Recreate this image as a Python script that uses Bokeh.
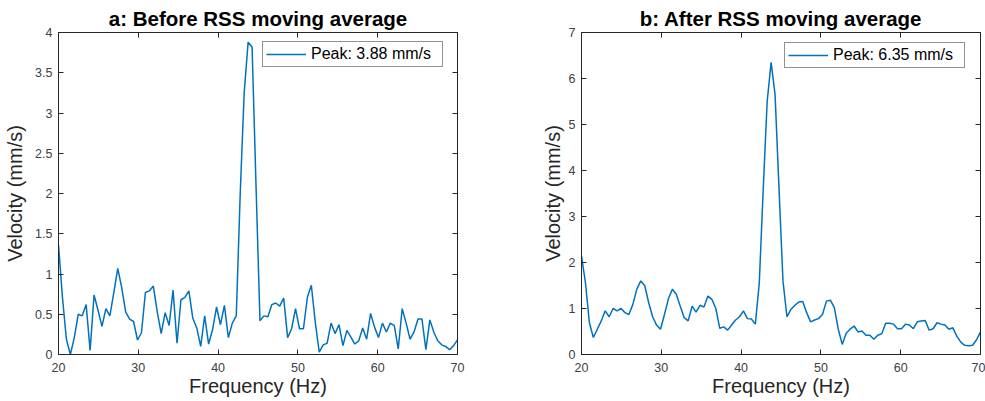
import numpy as np
from bokeh.plotting import figure
from bokeh.models import Range1d, LinearAxis, FixedTicker, Legend, LegendItem
from bokeh.layouts import row
from bokeh.embed import file_html
from bokeh.resources import INLINE

# ---------------- data ----------------
freq = np.linspace(20, 70, 102)   # frequency bins (Hz)

before_rss = [
    1.36, 0.71, 0.19, 0.00, 0.21, 0.50, 0.48, 0.62, 0.05, 0.74,
    0.55, 0.35, 0.57, 0.48, 0.77, 1.07, 0.83, 0.53, 0.44, 0.41,
    0.18, 0.27, 0.77, 0.79, 0.85, 0.53, 0.26, 0.52, 0.36, 0.80,
    0.14, 0.68, 0.71, 0.79, 0.45, 0.33, 0.10, 0.48, 0.13, 0.31,
    0.59, 0.37, 0.61, 0.21, 0.39, 0.48, 2.00, 3.25, 3.88, 3.82,
    2.10, 0.42, 0.48, 0.47, 0.62, 0.64, 0.60, 0.70, 0.21, 0.32,
    0.57, 0.32, 0.32, 0.71, 0.86, 0.40, 0.03, 0.12, 0.14, 0.39,
    0.26, 0.37, 0.11, 0.30, 0.22, 0.13, 0.17, 0.33, 0.19, 0.51,
    0.34, 0.21, 0.39, 0.28, 0.39, 0.36, 0.07, 0.57, 0.39, 0.19,
    0.28, 0.44, 0.44, 0.06, 0.43, 0.28, 0.17, 0.12, 0.10, 0.06,
    0.11, 0.18,
]

after_rss = [
    2.14, 1.56, 0.69, 0.37, 0.55, 0.73, 0.95, 0.82, 1.00, 0.95,
    1.00, 0.91, 0.87, 1.09, 1.42, 1.60, 1.50, 1.13, 0.82, 0.64,
    0.55, 0.87, 1.21, 1.42, 1.31, 1.05, 0.80, 0.73, 1.05, 0.92,
    1.07, 1.03, 1.27, 1.20, 1.00, 0.57, 0.60, 0.53, 0.64, 0.75,
    0.82, 0.95, 0.78, 0.77, 0.66, 1.55, 3.60, 5.50, 6.35, 5.65,
    3.60, 1.60, 0.82, 0.98, 1.07, 1.14, 1.15, 0.91, 0.71, 0.75,
    0.78, 0.87, 1.16, 1.18, 1.02, 0.55, 0.22, 0.46, 0.55, 0.62,
    0.49, 0.51, 0.42, 0.42, 0.33, 0.42, 0.45, 0.68, 0.68, 0.66,
    0.56, 0.56, 0.66, 0.64, 0.56, 0.71, 0.73, 0.74, 0.53, 0.56,
    0.69, 0.66, 0.64, 0.55, 0.58, 0.40, 0.27, 0.20, 0.19, 0.20,
    0.32, 0.49,
]

x_ticks = [20, 30, 40, 50, 60, 70]
y_ticks_a = [0, 0.5, 1, 1.5, 2, 2.5, 3, 3.5, 4]
y_ticks_b = [0, 1, 2, 3, 4, 5, 6, 7]

titles = ["a: Before RSS moving average", "b: After RSS moving average"]
legend_labels = ["Peak: 3.88 mm/s", "Peak: 6.35 mm/s"]
x_label = "Frequency (Hz)"
y_label = "Velocity (mm/s)"

FONT = "Liberation Sans"
AX = "#262626"
LINE = "#0072BD"


def style_axis(ax, ticks, show_labels):
    ax.ticker = FixedTicker(ticks=ticks)
    ax.axis_line_color = AX
    ax.axis_line_width = 1
    ax.major_tick_line_color = AX
    ax.major_tick_in = 5
    ax.major_tick_out = 0
    ax.minor_tick_line_color = None
    ax.major_label_text_font = FONT
    ax.major_label_text_line_height = 1.0
    ax.axis_label_text_line_height = 1.0
    if show_labels:
        ax.major_label_text_color = "#404040"
        ax.major_label_text_font_size = "12.5px"
        ax.major_label_overrides = {t: f"{t:g}" for t in ticks}
    else:
        ax.major_label_text_color = None
        ax.major_label_text_font_size = "0px"
        ax.major_label_standoff = 0


def make(title, yv, ymax, yticks, leg_label, min_left, min_right, leg_loc, ylab_standoff):
    p = figure(frame_width=399, frame_height=322,
               x_range=Range1d(20, 70), y_range=Range1d(0, ymax),
               output_backend="svg", toolbar_location=None,
               min_border_left=min_left, min_border_right=min_right,
               min_border_top=32, min_border_bottom=47)
    p.outline_line_color = None
    p.xgrid.visible = False
    p.ygrid.visible = False
    p.background_fill_color = "white"
    p.border_fill_color = "white"

    r = p.line(freq, yv, line_color=LINE, line_width=1.5)

    style_axis(p.xaxis[0], x_ticks, True)
    style_axis(p.yaxis[0], yticks, True)
    p.xaxis.major_label_standoff = 8
    p.yaxis.major_label_standoff = 6
    p.xaxis.axis_label = x_label
    p.yaxis.axis_label = y_label
    for ax in (p.xaxis[0], p.yaxis[0]):
        ax.axis_label_text_font = FONT
        ax.axis_label_text_font_size = "20px"
        ax.axis_label_text_font_style = "normal"
        ax.axis_label_text_color = AX
    p.xaxis.axis_label_standoff = 0
    p.yaxis.axis_label_standoff = ylab_standoff

    top = LinearAxis()
    style_axis(top, x_ticks, False)
    p.add_layout(top, "above")
    right = LinearAxis()
    style_axis(right, yticks, False)
    p.add_layout(right, "right")

    p.title.text = title
    p.title.text_font = FONT
    p.title.text_font_size = "20.5px"
    p.title.text_font_style = "bold"
    p.title.text_color = "black"
    p.title.align = "center"
    p.title.standoff = 6

    legend = Legend(items=[LegendItem(label=leg_label, renderers=[r])],
                    location=leg_loc, margin=0, padding=3, spacing=0,
                    glyph_width=40, glyph_height=18, label_height=18,
                    label_standoff=5, label_width=128,
                    label_text_font=FONT, label_text_font_size="16px",
                    label_text_color="black",
                    border_line_color=AX, border_line_width=1,
                    background_fill_color="white", background_fill_alpha=1.0)
    p.add_layout(legend)
    return p


p1 = make(titles[0], before_rss, 4, y_ticks_a, legend_labels[0], 58, 33, (204, 287), 6)
p2 = make(titles[1], after_rss, 7, y_ticks_b, legend_labels[1], 91, 5, (203, 286), 2)

layout = row(p1, p2)
open("out.html", "w").write(file_html(layout, INLINE))
